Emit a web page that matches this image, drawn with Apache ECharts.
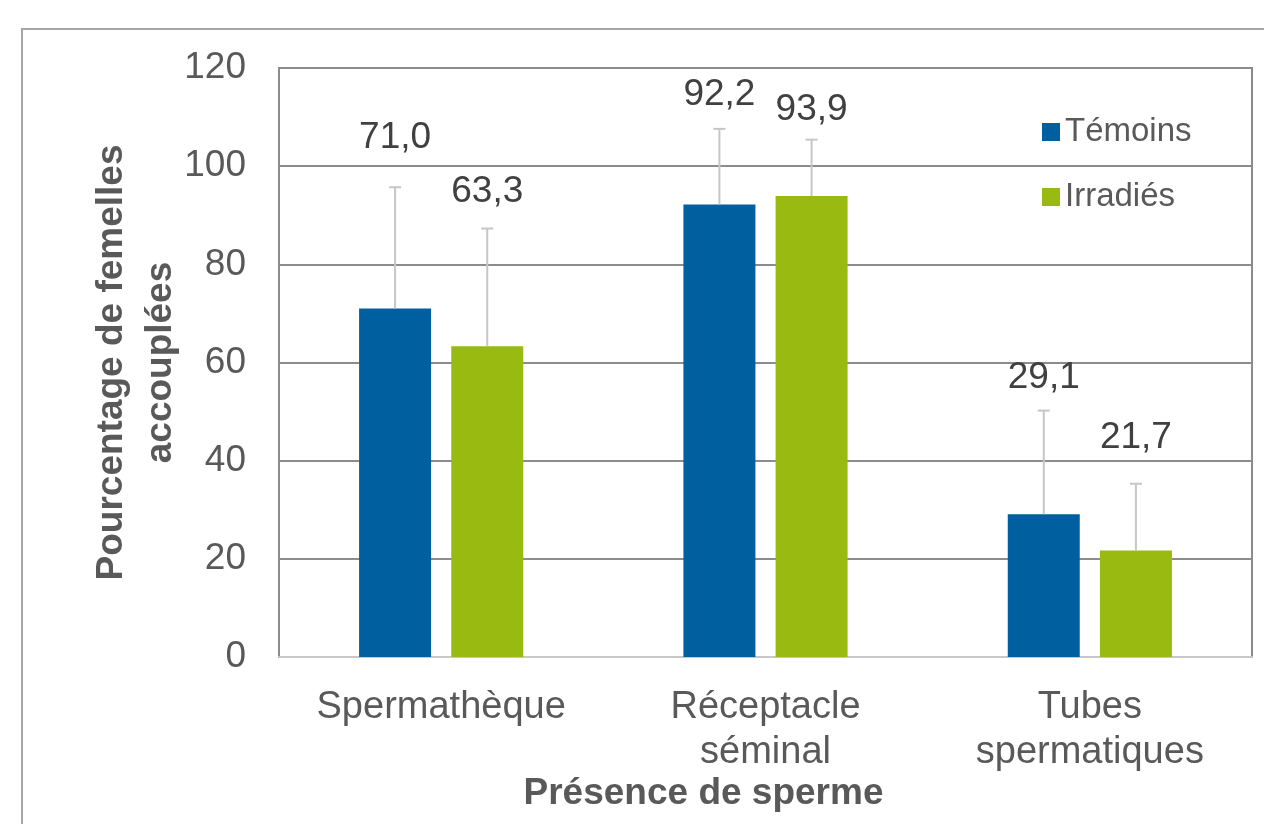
<!DOCTYPE html>
<html>
<head>
<meta charset="utf-8">
<script src="https://cdn.jsdelivr.net/npm/echarts@6/dist/echarts.min.js"></script>
<style>
html,body{margin:0;padding:0;background:#fff;}
#chart{width:1264px;height:824px;}
</style>
</head>
<body>
<div id="chart"></div>
<script>
// ---- data ----
const categories = ['Spermathèque', 'Réceptacle\nséminal', 'Tubes\nspermatiques'];
const seriesNames = ['Témoins', 'Irradiés'];
const temoins = [71.0, 92.2, 29.1];
const irradies = [63.3, 93.9, 21.7];
const temoinsErr = [24.7, 15.4, 21.1];
const irradiesErr = [24.0, 11.5, 13.6];
const yMin = 0, yMax = 120, yStep = 20;

// ---- style ----
const colors = ['#00609f', '#99bb11'];
const FONT = '"Liberation Sans", Arial, sans-serif';
const labelLift = [[49, 34, 33], [37, 30, 46]]; // px above the error-bar cap
const BAR_W = 0.222, BAR_GAP = 0.28;
const offsetFrac = BAR_W * (1 + BAR_GAP) / 2;

const fmt = v => v.toFixed(1).replace('.', ',');

function errSeries(idx, vals, errs) {
  const sign = idx === 0 ? -1 : 1;
  return {
    type: 'custom',
    z: 5,
    silent: true,
    encode: { x: 0, y: 1 },
    data: vals.map((v, i) => [i, v, errs[i]]),
    renderItem: function (params, api) {
      const ci = api.value(0), v = api.value(1), e = api.value(2);
      const bw = api.size([1, 0])[0];
      const dx = sign * offsetFrac * bw;
      const p0 = api.coord([ci, v]);
      const p1 = api.coord([ci, v + e]);
      const x = p0[0] + dx;
      const lift = labelLift[idx][params.dataIndex];
      return {
        type: 'group',
        children: [
          { type: 'line', shape: { x1: x, y1: p0[1], x2: x, y2: p1[1] }, style: { stroke: '#c6c6c6', lineWidth: 2 } },
          { type: 'line', shape: { x1: x - 6, y1: p1[1], x2: x + 6, y2: p1[1] }, style: { stroke: '#c6c6c6', lineWidth: 2 } },
          { type: 'text', x: x, y: p1[1] - lift,
            style: { text: fmt(v), fill: '#404040', fontSize: 37, fontFamily: FONT,
                     align: 'center', verticalAlign: 'middle', textAlign: 'center', textVerticalAlign: 'middle' } }
        ]
      };
    }
  };
}

const chart = echarts.init(document.getElementById('chart'), null, { renderer: 'canvas' });
chart.setOption({
  animation: false,
  backgroundColor: '#fff',
  graphic: [{
    type: 'rect', z: -10, silent: true,
    shape: { x: 22, y: 29, width: 1400, height: 1000 },
    style: { fill: 'none', stroke: '#a6a6a6', lineWidth: 2 }
  }],
  grid: {
    left: 279, right: 12, top: 68, bottom: 167,
    show: true, borderColor: '#8c8c8c', borderWidth: 2, backgroundColor: 'transparent'
  },
  legend: {
    data: seriesNames,
    orient: 'vertical',
    left: 1042, top: 112,
    padding: 0,
    icon: 'rect',
    itemWidth: 18, itemHeight: 18,
    itemGap: 25,
    textStyle: { fontSize: 33, fontFamily: FONT, color: '#595959', lineHeight: 40 }
  },
  xAxis: {
    type: 'category',
    data: categories,
    axisLine: { show: true, lineStyle: { color: '#c8c8c8', width: 2 } },
    axisTick: { show: false },
    axisLabel: { fontSize: 38, fontFamily: FONT, color: '#595959', margin: 28, lineHeight: 45, interval: 0 },
    name: 'Présence de sperme',
    nameLocation: 'middle',
    nameGap: 118,
    nameMoveOverlap: false,
    nameTextStyle: { fontSize: 37, fontWeight: 'bold', fontFamily: FONT, color: '#595959', padding: [0, 124, 0, 0] }
  },
  yAxis: {
    type: 'value',
    min: yMin, max: yMax, interval: yStep,
    axisLine: { show: true, lineStyle: { color: '#8c8c8c', width: 2 } },
    axisTick: { show: false },
    splitLine: { show: true, lineStyle: { color: '#8c8c8c', width: 2 } },
    axisLabel: { fontSize: 37, fontFamily: FONT, color: '#595959', margin: 33 },
    name: 'Pourcentage de femelles\naccouplées',
    nameLocation: 'middle',
    nameGap: 94,
    nameMoveOverlap: false,
    nameTextStyle: { fontSize: 37, fontWeight: 'bold', fontFamily: FONT, color: '#595959', lineHeight: 49 }
  },
  series: [
    { name: seriesNames[0], type: 'bar', data: temoins, barWidth: (BAR_W * 100) + '%', barGap: (BAR_GAP * 100) + '%',
      itemStyle: { color: colors[0] }, z: 3 },
    { name: seriesNames[1], type: 'bar', data: irradies, barWidth: (BAR_W * 100) + '%', barGap: (BAR_GAP * 100) + '%',
      itemStyle: { color: colors[1] }, z: 3 },
    errSeries(0, temoins, temoinsErr),
    errSeries(1, irradies, irradiesErr)
  ]
});
</script>
</body>
</html>
